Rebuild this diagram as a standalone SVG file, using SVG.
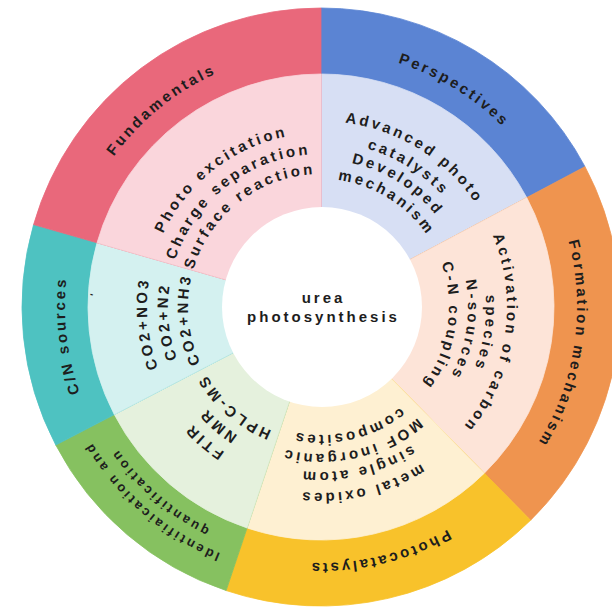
<svg xmlns="http://www.w3.org/2000/svg" width="612" height="608" viewBox="0 0 612 608">
<style>
.t{font-family:"Liberation Sans",Arial,sans-serif;font-weight:bold;fill:#1d1d1d;text-anchor:middle}
.lbl{font-size:15px;letter-spacing:2.7px}
.in{font-size:15px;letter-spacing:3px}
.sm{font-size:13px;letter-spacing:2.8px}
.ctr{font-size:15px;letter-spacing:3px}
</style>
<defs>
<path id="r256" d="M321,51 A256,256 0 1,1 321,563 A256,256 0 1,1 321,51"/>
<path id="r266" d="M321,41 A266,266 0 1,1 321,573 A266,266 0 1,1 321,41"/>
<path id="r248" d="M321,59 A248,248 0 1,1 321,555 A248,248 0 1,1 321,59"/>
<path id="r186" d="M321,121 A186,186 0 1,1 321,493 A186,186 0 1,1 321,121"/>
<path id="r174" d="M321,133 A174,174 0 1,1 321,481 A174,174 0 1,1 321,133"/>
<path id="r165" d="M321,142 A165,165 0 1,1 321,472 A165,165 0 1,1 321,142"/>
<path id="r153" d="M321,154 A153,153 0 1,1 321,460 A153,153 0 1,1 321,154"/>
<path id="r147" d="M321,160 A147,147 0 1,1 321,454 A147,147 0 1,1 321,160"/>
<path id="r133" d="M321,174 A133,133 0 1,1 321,440 A133,133 0 1,1 321,174"/>
<path id="r128" d="M321,179 A128,128 0 1,1 321,435 A128,128 0 1,1 321,179"/>
</defs>
<rect width="612" height="608" fill="#ffffff"/>

<g id="perspectives">
<path d="M321,307 L321,8 A299,299 0 0 1 585,166.63 Z" fill="#5B84D3" stroke="#5B84D3" stroke-width="0.8"/>
<path d="M321,307 L321,74 A233,233 0 0 1 526.73,197.61 Z" fill="#D7DFF4" stroke="#D7DFF4" stroke-width="0.8"/>
<text class="t lbl"><textPath href="#r256" startOffset="8.75%">Perspectives</textPath></text>
<text class="t in"><textPath href="#r186" startOffset="8.89%">Advanced photo</textPath></text>
<text class="t in"><textPath href="#r165" startOffset="8.89%">catalysts</textPath></text>
<text class="t in"><textPath href="#r147" startOffset="8.89%">Developed</textPath></text>
<text class="t in"><textPath href="#r128" startOffset="8.89%">mechanism</textPath></text>
</g>

<g id="formation-mechanism">
<path d="M321,307 L585,166.63 A299,299 0 0 1 530.57,520.26 Z" fill="#EF944F" stroke="#EF944F" stroke-width="0.8"/>
<path d="M321,307 L526.73,197.61 A233,233 0 0 1 484.31,473.19 Z" fill="#FDE4D8" stroke="#FDE4D8" stroke-width="0.8"/>
<text class="t lbl"><textPath href="#r256" startOffset="27.42%">Formation mechanism</textPath></text>
<text class="t in"><textPath href="#r186" startOffset="27.5%">Activation of carbon</textPath></text>
<text class="t in"><textPath href="#r165" startOffset="27.5%">species</textPath></text>
<text class="t in"><textPath href="#r147" startOffset="27.5%">N-sources</textPath></text>
<text class="t in"><textPath href="#r128" startOffset="27.5%">C-N coupling</textPath></text>
</g>

<g id="photocatalysts">
<path d="M321,307 L530.57,520.26 A299,299 0 0 1 226.13,590.55 Z" fill="#F8C22B" stroke="#F8C22B" stroke-width="0.8"/>
<path d="M321,307 L484.31,473.19 A233,233 0 0 1 247.07,527.96 Z" fill="#FEF0D2" stroke="#FEF0D2" stroke-width="0.8"/>
<text class="t lbl"><textPath href="#r256" startOffset="46.25%">Photocatalysts</textPath></text>
<text class="t in"><textPath href="#r186" startOffset="46.39%">metal oxides</textPath></text>
<text class="t in"><textPath href="#r165" startOffset="46.39%">single atom</textPath></text>
<text class="t in"><textPath href="#r147" startOffset="46.39%">MOF inorganic</textPath></text>
<text class="t in"><textPath href="#r128" startOffset="46.39%">composites</textPath></text>
</g>

<g id="identification-quantification">
<path d="M321,307 L226.13,590.55 A299,299 0 0 1 55.78,445.06 Z" fill="#86C160" stroke="#86C160" stroke-width="0.8"/>
<path d="M321,307 L247.07,527.96 A233,233 0 0 1 114.33,414.59 Z" fill="#E5F1DD" stroke="#E5F1DD" stroke-width="0.8"/>
<text class="t sm"><textPath href="#r266" startOffset="61.39%">Identifiaication and</textPath></text>
<text class="t sm"><textPath href="#r248" startOffset="61.39%">quantification</textPath></text>
<text class="t in"><textPath href="#r174" startOffset="61.39%">FTIR</textPath></text>
<text class="t in"><textPath href="#r153" startOffset="61.39%">NMR</textPath></text>
<text class="t in"><textPath href="#r133" startOffset="61.39%">HPLC-MS</textPath></text>
</g>

<g id="cn-sources">
<path d="M321,307 L55.78,445.06 A299,299 0 0 1 33.58,224.58 Z" fill="#4EC2C1" stroke="#4EC2C1" stroke-width="0.8"/>
<path d="M321,307 L114.33,414.59 A233,233 0 0 1 97.03,242.78 Z" fill="#D4F1F0" stroke="#D4F1F0" stroke-width="0.8"/>
<text class="t lbl"><textPath href="#r256" startOffset="73.2%">C/N sources</textPath></text>
<text class="t in"><textPath href="#r174" startOffset="73.47%">CO2+NO3</textPath></text>
<text class="t in"><textPath href="#r153" startOffset="73.47%">CO2+N2</textPath></text>
<text class="t in"><textPath href="#r133" startOffset="73.47%">CO2+NH3</textPath></text>
<text class="t" style="font-size:10px" transform="translate(97,296) rotate(-75)">'</text>
</g>

<g id="fundamentals">
<path d="M321,307 L33.58,224.58 A299,299 0 0 1 321,8 Z" fill="#E9687B" stroke="#E9687B" stroke-width="0.8"/>
<path d="M321,307 L97.03,242.78 A233,233 0 0 1 321,74 Z" fill="#FAD6DC" stroke="#FAD6DC" stroke-width="0.8"/>
<text class="t lbl"><textPath href="#r256" startOffset="89.17%">Fundamentals</textPath></text>
<text class="t in"><textPath href="#r174" startOffset="89.44%">Photo excitation</textPath></text>
<text class="t in"><textPath href="#r153" startOffset="89.44%">Charge separation</textPath></text>
<text class="t in"><textPath href="#r133" startOffset="89.44%">Surface reaction</textPath></text>
</g>

<g id="center">
<circle cx="322" cy="307" r="100" fill="#ffffff"/>
<text class="t ctr" x="323.5" y="303">urea</text>
<text class="t ctr" x="323.5" y="322">photosynthesis</text>
</g>
</svg>
